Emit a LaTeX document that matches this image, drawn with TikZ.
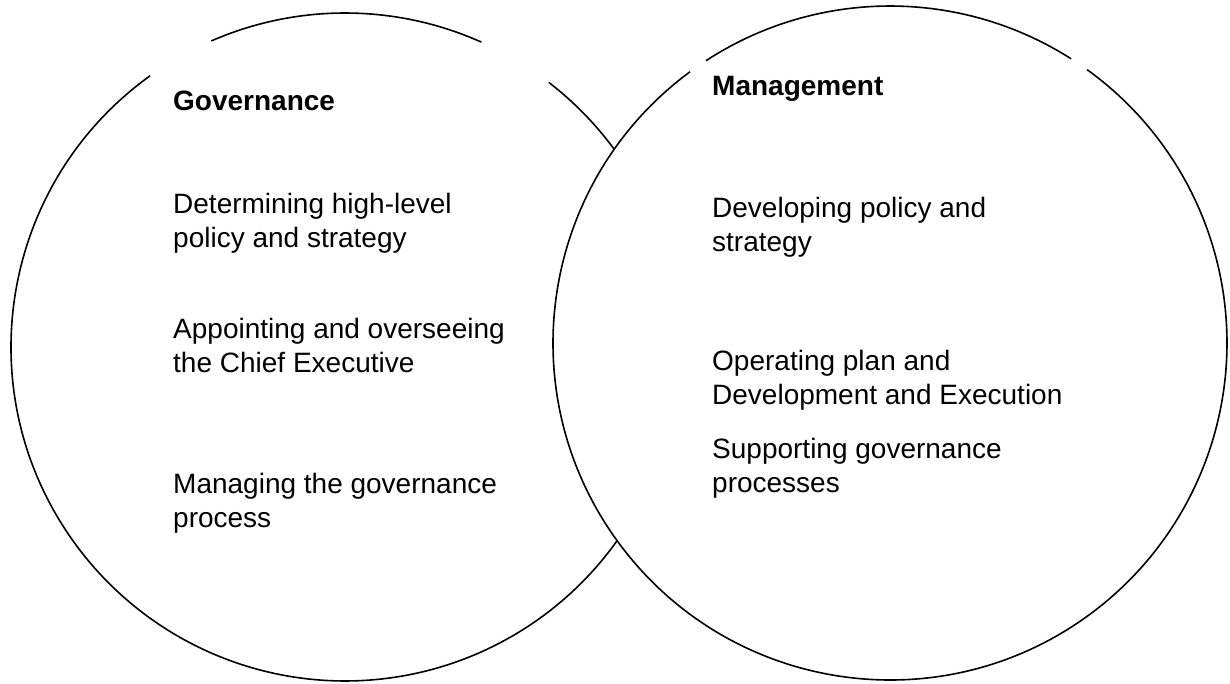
\documentclass[tikz,border=0pt]{standalone}
\usepackage{fontspec}
\setmainfont{Liberation Sans}
\begin{document}
\begin{tikzpicture}[x=1pt,y=1pt,
  ring/.style={line width=1.6pt, black},
  txt/.style={anchor=north west, inner sep=0pt, align=left, font=\fontsize{28}{34}\selectfont},
  head/.style={txt, font=\fontsize{28}{34}\selectfont\bfseries}]
\useasboundingbox (0,0) rectangle (1230,683);
\coordinate (L) at (345,336);
\coordinate (R) at (890,340);
% left circle (Governance)
\draw[ring] (L) ++(36.3:334) arc[start angle=36.3,end angle=52.4,radius=334];
\draw[ring] (L) ++(65.9:334) arc[start angle=65.9,end angle=113.6,radius=334];
\draw[ring] (L) ++(125.7:334) arc[start angle=125.7,end angle=324.55,radius=334];
% right circle (Management)
\draw[ring] (R) ++(57.5:337) arc[start angle=57.5,end angle=123.1,radius=337];
\draw[ring] (R) ++(126.4:337) arc[start angle=126.4,end angle=414.2,radius=337];
% texts
\node[head] (gov) at (173,595) {\rule{0pt}{22pt}Governance};
\node[txt] (det) at (173,492) {\rule{0pt}{22pt}Determining high-level\\policy and strategy};
\node[txt] (app) at (173,367) {\rule{0pt}{22pt}Appointing and overseeing\\the Chief Executive};
\node[txt] (man) at (173,212) {\rule{0pt}{22pt}Managing the governance\\process};
\node[head] (mgmt) at (712,610) {\rule{0pt}{22pt}Management};
\node[txt] (dev) at (712,488) {\rule{0pt}{22pt}Developing policy and\\strategy};
\node[txt] (ope) at (712,335) {\rule{0pt}{22pt}Operating plan and\\Development and Execution};
\node[txt] (sup) at (712,247) {\rule{0pt}{22pt}Supporting governance\\processes};
\end{tikzpicture}
\end{document}
